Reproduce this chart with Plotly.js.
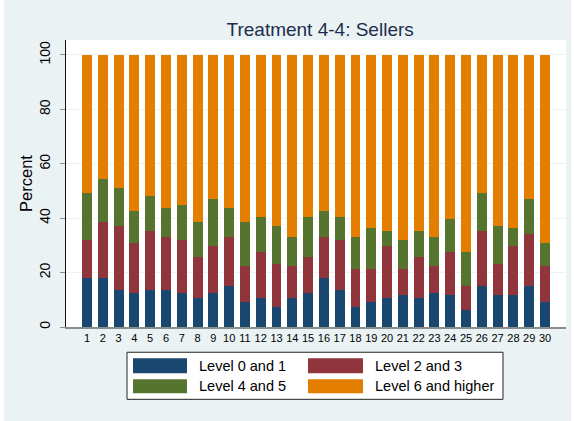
<!DOCTYPE html>
<html>
<head>
<meta charset="utf-8">
<script src="https://cdn.plot.ly/plotly-3.0.1.min.js"></script>
<style>
html,body{margin:0;padding:0;background:#ffffff;}
#chart{position:absolute;left:4px;top:0;width:567px;height:421px;}
</style>
</head>
<body>
<div id="chart"></div>
<script>
const periods = [1,2,3,4,5,6,7,8,9,10,11,12,13,14,15,16,17,18,19,20,21,22,23,24,25,26,27,28,29,30];
const seriesNames = ["Level 0 and 1","Level 2 and 3","Level 4 and 5","Level 6 and higher"];
const level01 = [17.9,17.9,13.6,12.5,13.6,13.6,12.5,10.5,12.5,15.0,9.2,10.5,7.2,10.5,12.5,17.9,13.6,7.2,9.2,10.5,11.6,10.5,12.5,11.6,6.25,15.0,11.6,11.6,15.0,9.2];
const level23 = [14.0,20.6,23.7,18.5,21.6,19.5,19.4,15.1,17.3,18.1,13.1,17.2,16.1,11.8,13.1,15.2,18.3,14.0,12.0,19.3,9.6,15.1,9.8,16.1,8.75,20.2,11.7,18.2,19.2,13.1];
const level45 = [17.2,16.0,13.9,11.6,12.8,10.7,13.1,12.9,17.3,10.7,16.2,12.9,14.0,10.8,15.0,9.5,8.7,11.9,15.2,5.4,10.7,9.6,10.8,11.9,12.7,13.9,14.0,6.6,12.9,8.7];
const level6up = [50.9,45.5,48.8,57.4,52.0,56.2,55.0,61.5,52.9,56.2,61.5,59.4,62.7,66.9,59.4,57.4,59.4,66.9,63.6,64.8,68.1,64.8,66.9,60.4,72.3,50.9,62.7,63.6,52.9,69.0];
const yTicks = [0,20,40,60,80,100];

const colors = ["#1a476f","#90353b","#55752f","#e37e00"];
const seriesData = [level01, level23, level45, level6up];

const traces = seriesData.map((vals, i) => ({
  type: "bar",
  x: periods,
  y: vals,
  name: seriesNames[i],
  marker: {color: colors[i], line: {width: 0}},
  showlegend: false,
  hoverinfo: "x+y+name"
}));

// custom legend (wide swatches, Stata style)
const shapes = [{
  type: "rect", xref: "paper", yref: "paper",
  x0: 0.122, x1: 0.874, y0: -0.088, y1: -0.252,
  fillcolor: "#ffffff", line: {color: "#222222", width: 1}
}];
const annotations = [];
const swX = [[0.134,0.242],[0.484,0.594]];
const swY = [[-0.109,-0.161],[-0.182,-0.231]];
const txtX = [0.262,0.614];
const txtY = [-0.135,-0.207];
seriesNames.forEach((nm, i) => {
  const col = i % 2, row = Math.floor(i / 2);
  shapes.push({
    type: "rect", xref: "paper", yref: "paper",
    x0: swX[col][0], x1: swX[col][1], y0: swY[row][0], y1: swY[row][1],
    fillcolor: colors[i], line: {width: 0}
  });
  annotations.push({
    xref: "paper", yref: "paper", x: txtX[col], y: txtY[row],
    xanchor: "left", yanchor: "middle", showarrow: false,
    text: nm, font: {family: "Liberation Sans, Arial, sans-serif", size: 14.5, color: "#000000"}
  });
});

const layout = {
  width: 567, height: 421,
  margin: {l: 62, r: 5, t: 40, b: 94, pad: 0},
  paper_bgcolor: "#eaf2f3",
  plot_bgcolor: "#ffffff",
  barmode: "stack",
  bargap: 0.37,
  font: {family: "Liberation Sans, Arial, sans-serif", color: "#000000"},
  title: {
    text: "Treatment 4-4: Sellers",
    x: 0.5576, xanchor: "center", y: 0.931, yanchor: "middle",
    font: {size: 19, color: "#1e2d4f"}
  },
  xaxis: {
    range: [-0.33, 31.33],
    tickmode: "array", tickvals: periods, ticktext: periods.map(String),
    ticks: "", showgrid: false, zeroline: false,
    showline: true, linecolor: "#8c8c8c", linewidth: 1.5,
    tickfont: {size: 11}, fixedrange: true
  },
  yaxis: {
    range: [0, 105.5],
    tickmode: "array", tickvals: yTicks,
    ticks: "outside", ticklen: 5, tickcolor: "#8c8c8c", tickwidth: 1,
    tickangle: -90, tickfont: {size: 14}, ticklabelstandoff: 4,
    showgrid: true, gridcolor: "#eaf2f3", gridwidth: 1,
    zeroline: false, showline: true, linecolor: "#111111", linewidth: 1,
    title: {text: "Percent", font: {size: 16.5}, standoff: 0},
    fixedrange: true
  },
  shapes: shapes,
  annotations: annotations
};

Plotly.newPlot("chart", traces, layout, {displayModeBar: false, staticPlot: true});
</script>
</body>
</html>
